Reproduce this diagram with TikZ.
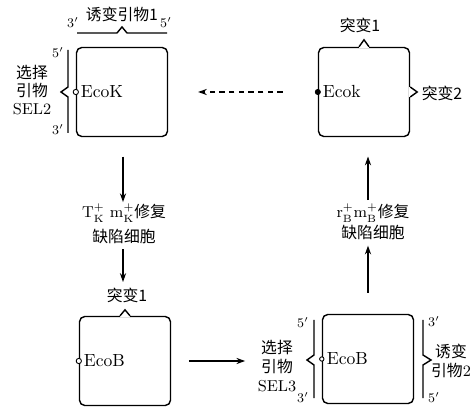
\documentclass[tikz,border=0pt]{standalone}
\usepackage{fontspec}
\newfontfamily\cjk{Noto Sans CJK SC}
\usetikzlibrary{arrows.meta, positioning, calc}

\begin{document}
\begin{tikzpicture}[
    x=0.02cm, y=-0.02cm,
    >={Stealth[length=5pt, width=3.5pt]},
    cell/.style={rectangle, draw, rounded corners=3pt, minimum width=1.82cm, minimum height=1.78cm, inner sep=0pt, line width=0.8pt},
    site/.style={font=\normalsize, inner sep=1pt, anchor=west},
    cnote/.style={font=\cjk\fontsize{9}{10.5}\selectfont, align=center, inner sep=1pt},
    prime/.style={font=\fontsize{7.5}{8}\selectfont, inner sep=0pt},
    flow/.style={->, line width=0.7pt},
    notch/.style={line width=0.8pt},
    openmark/.style={circle, draw, fill=white, inner sep=0pt, minimum size=3pt, line width=0.5pt},
    fullmark/.style={circle, draw, fill=black, inner sep=0pt, minimum size=3pt}
]
\useasboundingbox (0,0) rectangle (476,411);

% 1. EcoK cell with primer SEL2
\node[cell] (kbox) at (122,92) {};
\node[openmark] at (kbox.west) {};
\node[site] (klab) at ($(kbox.west)+(3,0)$) {EcoK};
\draw[notch] (77,33) -- (117,33) -- (122,27) -- (127,33) -- (167,33);
\node[cnote] (kprim) at (122,14) {诱变引物1};
\node[prime] at (73,23) {3$'$};
\node[prime] at (166,23) {5$'$};
\draw[notch] (68,50) -- (68,87) -- (61,92) -- (68,97) -- (68,133);
\node[prime] at (58,53) {5$'$};
\node[prime] at (58,130) {3$'$};
\node[cnote, font=\cjk\fontsize{9}{10.3}\selectfont] (sel2) at (32,90) {选择\\引物\\{\rmfamily SEL2}};

% 2. Ecok mutant
\node[cell] (kmut) at (364,92) {};
\draw[white, line width=1.6pt] ($(kmut.north)+(-5,0)$) -- ++(10,0);
\draw[notch] ($(kmut.north)+(-5,0)$) -- ++(5,-7) -- ++(5,7);
\draw[white, line width=1.6pt] ($(kmut.east)+(0,-5)$) -- ++(0,10);
\draw[notch] ($(kmut.east)+(0,-5)$) -- ++(7,5) -- ++(-7,5);
\node[fullmark] at (kmut.west) {};
\node[site] (kmlab) at ($(kmut.west)+(3,0)$) {Ecok};
\node[cnote] (kmut1) at (360,25) {突变1};
\node[cnote] (kmut2) at (442,93) {突变2};

\draw[flow, dashed, dash pattern=on 3pt off 2.5pt, shorten <=20pt, shorten >=17pt] (kmut.west) -- (kbox.east);

% 3. repair deficient hosts
\node[cnote, font=\cjk\fontsize{9}{14}\selectfont] (tk) at (124,224) {{\rmfamily $\mathrm{T}^{+}_{\mathrm{K}}\ \mathrm{m}^{+}_{\mathrm{K}}$}修复\\缺陷细胞};
\node[cnote, font=\cjk\fontsize{9}{12}\selectfont] (rb) at (373,222) {{\rmfamily $\mathrm{r}^{+}_{\mathrm{B}}\mathrm{m}^{+}_{\mathrm{B}}$}修复\\缺陷细胞};

% 4. EcoB cell
\node[cell] (bbox) at (125,361) {};
\draw[white, line width=1.6pt] ($(bbox.north)+(-5,0)$) -- ++(10,0);
\draw[notch] ($(bbox.north)+(-5,0)$) -- ++(5,-6) -- ++(5,6);
\node[openmark] at (bbox.west) {};
\node[site] (blab) at ($(bbox.west)+(3,0)$) {EcoB};
\node[cnote] (bmut1) at (127,295) {突变1};

% 5. EcoB cell with primers SEL3 and 2
\node[cell] (bmut) at (368,359) {};
\node[openmark, minimum size=2.5pt] at (bmut.west) {};
\node[site] (bmlab) at ($(bmut.west)+(3,0)$) {EcoB};
\draw[notch] (314,320) -- (314,355) -- (307,360) -- (314,365) -- (314,398);
\node[prime] at (303,323) {5$'$};
\node[prime] at (303,398) {3$'$};
\node[cnote, font=\cjk\fontsize{9}{11}\selectfont] (sel3) at (277,366) {选择\\引物\\{\rmfamily SEL3}};
\draw[notch] (423,320) -- (423,355) -- (431,360) -- (423,365) -- (423,398);
\node[prime] at (434,322) {3$'$};
\node[prime] at (434,398) {5$'$};
\node[cnote] (bprim) at (451,361) {诱变\\引物{\rmfamily 2}};

\draw[flow, shorten <=11pt] (kbox.south) ++(1,0) coordinate (kx) -- (kx |- tk.north);
\draw[flow, shorten <=2pt, shorten >=2pt] (kx |- tk.south) -- (kx |- bmut1.north);
\draw[flow, shorten <=10pt, shorten >=6pt] (bbox.east) -- (bbox.east -| sel3.west);
\draw[flow, shorten <=12pt, shorten >=2pt] (bmut.north) -- (bmut.north |- rb.south);
\draw[flow, shorten <=1pt, shorten >=11pt] (bmut.north |- rb.north) -- (bmut.north |- kmut.south);

\end{tikzpicture}
\end{document}
